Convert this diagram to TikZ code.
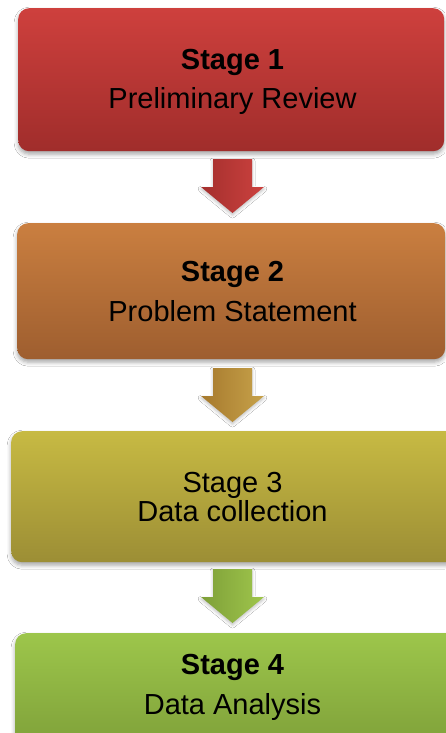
\documentclass[tikz,border=0pt]{standalone}
\usepackage{fontspec}
\setmainfont{Liberation Sans}
\usetikzlibrary{shadows.blur}
\definecolor{r1t}{HTML}{CE403D}
\definecolor{r1b}{HTML}{A02D2B}
\definecolor{o2t}{HTML}{CA7F40}
\definecolor{o2b}{HTML}{9E5E2F}
\definecolor{y3t}{HTML}{C7BA43}
\definecolor{y3b}{HTML}{9C8E35}
\definecolor{g4t}{HTML}{9DC64B}
\definecolor{g4b}{HTML}{779735}
\definecolor{a1l}{HTML}{A42F2D}
\definecolor{a1r}{HTML}{CC423F}
\definecolor{a2l}{HTML}{A6792D}
\definecolor{a2r}{HTML}{C7A24A}
\definecolor{a3l}{HTML}{7E9F38}
\definecolor{a3r}{HTML}{9FC64C}
\begin{document}
\begin{tikzpicture}[x=1pt,y=-1pt,
  stagebox/.style={rounded corners=11pt, inner sep=0pt, anchor=north west,
    blur shadow={shadow xshift=0pt, shadow yshift=-3pt, shadow blur radius=4pt, shadow opacity=35}},
  boldtxt/.style={anchor=base, font=\bfseries\fontsize{29}{30}\selectfont},
  plaintxt/.style={anchor=base, font=\fontsize{29}{30}\selectfont},
  pics/downarrow/.style 2 args={code={
    \path[left color=#1, right color=#2,
      blur shadow={shadow xshift=0pt, shadow yshift=-2pt, shadow blur radius=3pt, shadow opacity=25}]
      (-19.5,0) -- (19.5,0) -- (19.5,28) -- (31.5,28) -- (0,54) -- (-31.5,28) -- (-19.5,28) -- cycle;
  }}]
\useasboundingbox (0,0) rectangle (445,733);
\fill[white] (0,0) rectangle (445,733);

\node[stagebox, top color=r1t, bottom color=r1b, minimum width=426pt, minimum height=143pt] (s1) at (18,8) {};
\node[stagebox, top color=o2t, bottom color=o2b, minimum width=428pt, minimum height=136pt] (s2) at (17,223) {};
\node[stagebox, top color=y3t, bottom color=y3b, minimum width=460pt, minimum height=131pt] (s3) at (11,431) {};
\node[stagebox, top color=g4t, bottom color=g4b, minimum width=460pt, minimum height=143pt] (s4) at (15,633) {};

\coordinate (a1) at (232.5,159);
\coordinate (a2) at (232.5,368);
\coordinate (a3) at (232.5,569);
\pic at (a1) {downarrow={a1l}{a1r}};
\pic at (a2) {downarrow={a2l}{a2r}};
\pic at (a3) {downarrow={a3l}{a3r}};

\node[boldtxt] (t1a) at (232.5,70) {Stage 1};
\node[plaintxt] (t1b) at (232.5,109) {Preliminary Review};
\node[boldtxt] (t2a) at (232.5,281) {Stage 2};
\node[plaintxt] (t2b) at (232.5,321) {Problem Statement};
\node[plaintxt] (t3a) at (232.5,492) {Stage 3};
\node[plaintxt] (t3b) at (232.5,521) {Data collection};
\node[boldtxt] (t4a) at (232.5,674) {Stage 4};
\node[plaintxt] (t4b) at (232.5,714) {Data Analysis};
\end{tikzpicture}
\end{document}
